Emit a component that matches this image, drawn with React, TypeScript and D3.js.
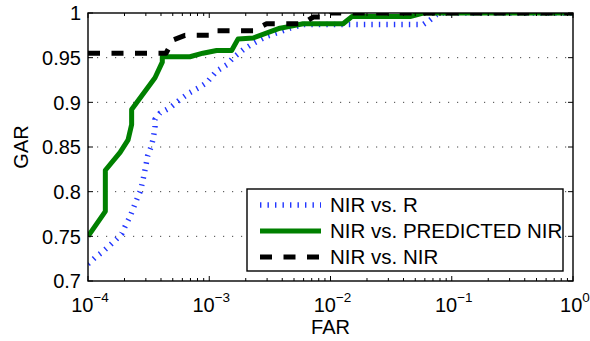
import { useEffect, useRef } from "react";
import * as d3 from "d3";

// [FAR, GAR] pairs
const nirVsR: [number, number][] = [
  [1e-4, 0.719], [1.14e-4, 0.726], [1.3e-4, 0.732], [1.49e-4, 0.739], [1.72e-4, 0.747],
  [1.9e-4, 0.753], [2.02e-4, 0.761], [2.22e-4, 0.772], [2.36e-4, 0.781], [2.52e-4, 0.791],
  [2.69e-4, 0.8], [2.81e-4, 0.81], [2.91e-4, 0.82], [3.01e-4, 0.83], [3.1e-4, 0.84],
  [3.31e-4, 0.85], [3.46e-4, 0.86], [3.57e-4, 0.873], [3.57e-4, 0.881], [3.93e-4, 0.888],
  [4.75e-4, 0.894], [5.74e-4, 0.903], [6.93e-4, 0.911], [8.12e-4, 0.916], [9.53e-4, 0.922],
  [1.15e-3, 0.935], [1.39e-3, 0.942], [1.58e-3, 0.95], [1.91e-3, 0.959], [2.31e-3, 0.966],
  [2.98e-3, 0.974], [3.83e-3, 0.979], [4.64e-3, 0.983], [5.93e-3, 0.987], [0.0132, 0.987],
  [0.058, 0.987], [0.066, 0.992], [0.075, 0.998], [0.08, 1], [1, 1],
];

const nirVsPredicted: [number, number][] = [
  [1e-4, 0.75], [1.39e-4, 0.778], [1.39e-4, 0.824], [1.84e-4, 0.844], [2.14e-4, 0.858],
  [2.29e-4, 0.875], [2.29e-4, 0.892], [3.57e-4, 0.9275], [4.1e-4, 0.945], [4.1e-4, 0.951],
  [6.93e-4, 0.951], [8.87e-4, 0.955], [1.15e-3, 0.958], [1.53e-3, 0.958], [1.73e-3, 0.971],
  [2.3e-3, 0.972], [3.83e-3, 0.983], [4.64e-3, 0.985], [5.93e-3, 0.988], [0.0127, 0.988],
  [0.015, 0.996], [0.0453, 0.996], [0.058, 1], [1, 1],
];

const nirVsNir: [number, number][] = [
  [1e-4, 0.955], [4.4e-4, 0.955], [5.06e-4, 0.97], [6.31e-4, 0.975], [1.1e-3, 0.975],
  [1.15e-3, 0.98], [2.3e-3, 0.98], [2.97e-3, 0.988], [5.9e-3, 0.988], [7.2e-3, 0.9955],
  [9.4e-3, 0.9955], [9.9e-3, 1], [1, 1],
];

const xTicks = [1e-4, 1e-3, 1e-2, 1e-1, 1];
const xTickExp = ["−4", "−3", "−2", "−1", "0"];
const yTicks = [0.7, 0.75, 0.8, 0.85, 0.9, 0.95, 1];
const yTickLabels = ["0.7", "0.75", "0.8", "0.85", "0.9", "0.95", "1"];
const legendLabels = ["NIR vs. R", "NIR vs. PREDICTED NIR", "NIR vs. NIR"];

const W = 590;
const H = 341;
const FONT = "'Liberation Sans', Arial, Helvetica, sans-serif";

export default function App() {
  const svgRef = useRef<SVGSVGElement>(null);

  useEffect(() => {
    if (!svgRef.current) return;
    const svg = d3.select(svgRef.current);
    svg.selectAll("*").remove();

    const left = 88, right = 573, top = 13, bottom = 281;
    const x = d3.scaleLog().domain([1e-4, 1]).range([left, right]);
    const y = d3.scaleLinear().domain([0.7, 1]).range([bottom, top]);

    svg.append("defs").append("clipPath").attr("id", "plot-clip")
      .append("rect")
      .attr("x", left).attr("y", top)
      .attr("width", right - left).attr("height", bottom - top);

    // dotted horizontal grid
    svg.append("g")
      .selectAll("line")
      .data(yTicks.slice(1, -1))
      .enter()
      .append("line")
      .attr("x1", left).attr("x2", right)
      .attr("y1", d => y(d)).attr("y2", d => y(d))
      .attr("stroke", "#444")
      .attr("stroke-width", 1)
      .attr("stroke-dasharray", "1.2 7.8");

    const line = d3.line<[number, number]>()
      .x(d => x(d[0]))
      .y(d => y(d[1]));

    const series = [
      { data: nirVsR, color: "#2236ff", width: 5.5, dash: "1.4 6.1" },
      { data: nirVsPredicted, color: "#008000", width: 5, dash: null },
      { data: nirVsNir, color: "#000", width: 5, dash: "12 11.5" },
    ];

    const plot = svg.append("g").attr("clip-path", "url(#plot-clip)");
    series.forEach(s => {
      plot.append("path")
        .datum(s.data)
        .attr("fill", "none")
        .attr("stroke", s.color)
        .attr("stroke-width", s.width)
        .attr("stroke-dasharray", s.dash)
        .attr("stroke-linejoin", "round")
        .attr("d", line);
    });

    // axes box
    svg.append("rect")
      .attr("x", left).attr("y", top)
      .attr("width", right - left).attr("height", bottom - top)
      .attr("fill", "none")
      .attr("stroke", "#000")
      .attr("stroke-width", 1.4);

    const ticks = svg.append("g").attr("stroke", "#000").attr("stroke-width", 1);

    // y ticks left and right
    yTicks.forEach(t => {
      ticks.append("line").attr("x1", left).attr("x2", left + 5).attr("y1", y(t)).attr("y2", y(t));
      ticks.append("line").attr("x1", right).attr("x2", right - 5).attr("y1", y(t)).attr("y2", y(t));
    });

    // x ticks, major and minor, top and bottom
    xTicks.forEach((t, i) => {
      ticks.append("line").attr("x1", x(t)).attr("x2", x(t)).attr("y1", bottom).attr("y2", bottom - 5);
      ticks.append("line").attr("x1", x(t)).attr("x2", x(t)).attr("y1", top).attr("y2", top + 5);
      if (i < xTicks.length - 1) {
        for (let m = 2; m <= 9; m++) {
          const v = t * m;
          ticks.append("line").attr("x1", x(v)).attr("x2", x(v)).attr("y1", bottom).attr("y2", bottom - 3);
          ticks.append("line").attr("x1", x(v)).attr("x2", x(v)).attr("y1", top).attr("y2", top + 3);
        }
      }
    });

    // y tick labels
    svg.append("g")
      .selectAll("text")
      .data(yTicks)
      .enter()
      .append("text")
      .attr("x", left - 7)
      .attr("y", d => y(d))
      .attr("dy", "0.36em")
      .attr("text-anchor", "end")
      .attr("font-family", FONT)
      .attr("font-size", 20)
      .text((d, i) => yTickLabels[i]);

    // x tick labels 10^k
    xTicks.forEach((t, i) => {
      const txt = svg.append("text")
        .attr("x", x(t) + 2)
        .attr("y", 312)
        .attr("text-anchor", "middle")
        .attr("font-family", FONT)
        .attr("font-size", 20);
      txt.append("tspan").text("10");
      txt.append("tspan").attr("dy", -10).attr("font-size", 13.5).text(xTickExp[i]);
    });

    // axis titles
    svg.append("text")
      .attr("x", (left + right) / 2)
      .attr("y", 334)
      .attr("text-anchor", "middle")
      .attr("font-family", FONT)
      .attr("font-size", 20)
      .text("FAR");

    svg.append("text")
      .attr("transform", `translate(28, ${(top + bottom) / 2}) rotate(-90)`)
      .attr("text-anchor", "middle")
      .attr("font-family", FONT)
      .attr("font-size", 20)
      .text("GAR");

    // legend
    const legend = svg.append("g");
    legend.append("rect")
      .attr("x", 247).attr("y", 189)
      .attr("width", 316).attr("height", 82)
      .attr("fill", "#fff")
      .attr("stroke", "#000")
      .attr("stroke-width", 1.4);

    series.forEach((s, i) => {
      const ly = 205 + i * 26;
      legend.append("line")
        .attr("x1", 260).attr("x2", 321)
        .attr("y1", ly).attr("y2", ly)
        .attr("stroke", s.color)
        .attr("stroke-width", s.width)
        .attr("stroke-dasharray", s.dash);
      legend.append("text")
        .attr("x", 330)
        .attr("y", ly)
        .attr("dy", "0.36em")
        .attr("font-family", FONT)
        .attr("font-size", 20.5)
        .text(legendLabels[i]);
    });
  }, []);

  return (
    <div style={{ position: "absolute", left: 0, top: 0, width: W, height: H, background: "#fff" }}>
      <svg ref={svgRef} width={W} height={H}></svg>
    </div>
  );
}
